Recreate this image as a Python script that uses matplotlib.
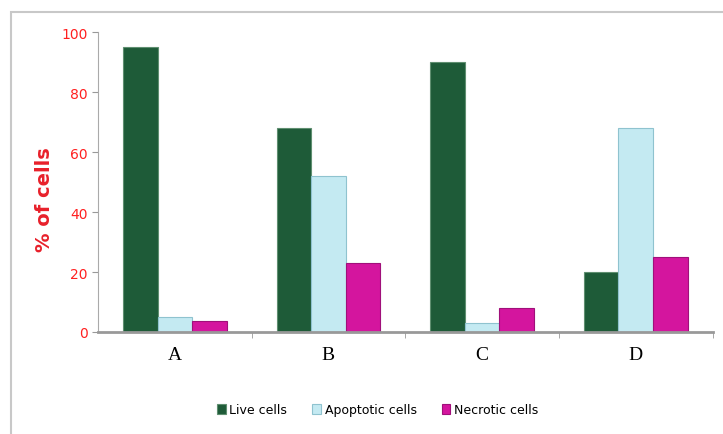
import matplotlib.pyplot as plt
import matplotlib.patches as mpatches
import numpy as np

categories = ["A", "B", "C", "D"]
live = [95, 68, 90, 20]
apoptotic = [5, 52, 3, 68]
necrotic = [3.5, 23, 8, 25]
yticks = [0, 20, 40, 60, 80, 100]

fig = plt.figure(figsize=(7.23, 4.35), dpi=100)
ax = fig.add_axes([0.1355, 0.2345, 0.85, 0.6895])

# gray frame round the whole chart
fig.patches.append(mpatches.Rectangle((0.015, -0.01), 1.0, 0.98, transform=fig.transFigure,
                                      fill=False, edgecolor="#c8c8c8", linewidth=1.5))

x = np.arange(len(categories))
w = 0.225
ax.bar(x - w, live, w, color="#1e5b38", edgecolor="#5f8f70", linewidth=0.8, label="Live cells")
ax.bar(x, apoptotic, w, color="#c4eaf2", edgecolor="#8fc3cf", linewidth=0.8, label="Apoptotic cells")
ax.bar(x + w, necrotic, w, color="#d4159e", edgecolor="#a0107a", linewidth=0.8, label="Necrotic cells")

ax.set_xlim(-0.5, 3.5)
ax.set_ylim(0, 100)
ax.set_yticks(yticks)
ax.set_yticklabels([str(t) for t in yticks], color="#ff2020", fontsize=10)
ax.set_xticks(x)
ax.set_xticklabels(categories, family="Liberation Serif", fontsize=14)
ax.tick_params(axis="x", length=0, pad=10)
ax.tick_params(axis="y", length=4, color="#999999", direction="out")
ax.set_xticks([0.5, 1.5, 2.5, 3.5], minor=True)
ax.tick_params(axis="x", which="minor", length=4, color="#999999")

for s in ["top", "right"]:
    ax.spines[s].set_visible(False)
ax.spines["left"].set_color("#aaaaaa")
ax.spines["bottom"].set_color("#999999")
ax.spines["bottom"].set_linewidth(2)

ax.set_ylabel("% of cells", color="#e8202a", fontsize=14, fontweight="bold")
ax.yaxis.set_label_coords(-0.072, 0.445)

ax.legend(loc="upper center", bbox_to_anchor=(0.455, -0.2), ncol=3, frameon=False,
          fontsize=9, handlelength=0.7, handleheight=0.9, handletextpad=0.3, columnspacing=2.0)

fig.savefig("out.png", dpi=100)
